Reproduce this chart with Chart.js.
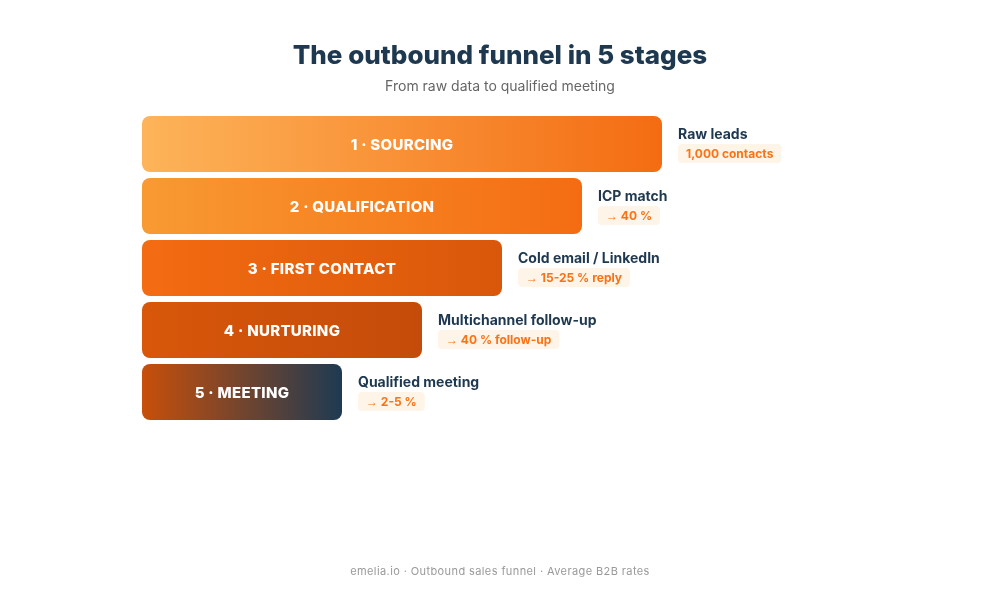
<!DOCTYPE html>
<html><head><meta charset="utf-8">
<style>html,body{margin:0;padding:0;background:#fff}#w{width:1000px;height:600px;position:relative}</style>
<script src="https://cdn.jsdelivr.net/npm/chart.js@4"></script></head>
<body><div id="w"><canvas id="c" width="1000" height="600"></canvas></div>
<script>
const stages = ["1 · SOURCING","2 · QUALIFICATION","3 · FIRST CONTACT","4 · NURTURING","5 · MEETING"];
const barLengths = [520,440,360,280,200];
const descriptions = ["Raw leads","ICP match","Cold email / LinkedIn","Multichannel follow-up","Qualified meeting"];
const badges = ["1,000 contacts","→ 40 %","→ 15-25 % reply","→ 40 % follow-up","→ 2-5 %"];
const gradStart = ["#fdb45a","#f89a32","#f46c12","#d8570a","#c84f0a"];
const gradEnd = ["#f46c12","#f46c12","#d8570a","#c44c0a","#1e3a52"];
const title = "The outbound funnel in 5 stages";
const subtitle = "From raw data to qualified meeting";
const footer = "emelia.io · Outbound sales funnel · Average B2B rates";
const NAVY = "#1e3850", ORANGE = "#f97316", FONT = "Inter, sans-serif";

const textPlugin = {
  id:"texts",
  afterDraw(chart){
    const c = chart.ctx, meta = chart.getDatasetMeta(0);
    c.save();
    c.textBaseline = "middle"; c.textAlign = "center";
    c.fillStyle = NAVY; c.font = "800 26px "+FONT;
    c.fillText(title,500,56);
    c.fillStyle = "#666"; c.font = "400 14px "+FONT;
    c.fillText(subtitle,500,87);
    c.fillStyle = "#999"; c.font = "400 11px "+FONT; c.letterSpacing="0.4px";
    c.fillText(footer,500,572);
    meta.data.forEach((b,i)=>{
      c.textAlign="center"; c.fillStyle="#fff"; c.font="800 15px "+FONT; c.letterSpacing="0.3px";
      c.fillText(stages[i],(b.base+b.x)/2,b.y+1);
      c.letterSpacing="0px";
      c.textAlign="left";
      const x=b.x+16;
      c.fillStyle=NAVY; c.font="700 14px "+FONT;
      c.fillText(descriptions[i],x,b.y-9);
      const hasArrow=badges[i].startsWith("→");
      const rest=hasArrow?badges[i].slice(1):badges[i];
      c.font="700 12px "+FONT;
      const restW=c.measureText(rest).width;
      const arrowW=hasArrow?12:0;
      const w=restW+arrowW+16;
      c.fillStyle="#fff4e8";
      c.beginPath(); c.roundRect(x,b.y,w,19,4); c.fill();
      c.fillStyle=ORANGE;
      c.fillText(rest,x+8+arrowW,b.y+10);
      if(hasArrow){
        c.font="400 12px 'Liberation Sans'";
        c.fillText("→",x+8,b.y+11);
      }
    });
    c.restore();
  }
};
new Chart(document.getElementById("c"),{
  type:"bar",
  data:{labels:stages,datasets:[{
    data:barLengths,
    barPercentage:56/62,categoryPercentage:1,
    borderRadius:8,borderSkipped:false,
    backgroundColor(ctx){
      const ch=ctx.chart; if(!ch.chartArea||ctx.dataIndex===undefined) return gradStart[0];
      const s=ch.scales.x, i=ctx.dataIndex;
      const g=ch.ctx.createLinearGradient(s.getPixelForValue(0),0,s.getPixelForValue(barLengths[i]),0);
      g.addColorStop(0,gradStart[i]); g.addColorStop(1,gradEnd[i]); return g;
    }
  }]},
  options:{
    indexAxis:"y",responsive:false,animation:false,devicePixelRatio:1,
    layout:{padding:{left:142,right:0,top:113,bottom:177}},
    plugins:{legend:{display:false},tooltip:{enabled:false}},
    scales:{x:{display:false,min:0,max:858},y:{display:false}}
  },
  plugins:[textPlugin]
});
</script></body></html>
